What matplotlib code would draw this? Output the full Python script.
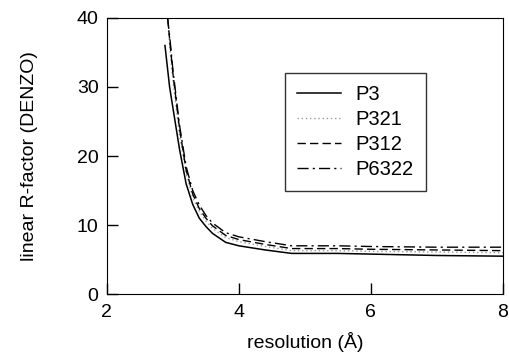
import numpy as np
import matplotlib.pyplot as plt

plt.rcParams['font.family'] = ['Liberation Sans', 'DejaVu Sans']

# resolution (A) and R-factor values
res_p3 = [2.88, 2.95, 3.0, 3.1, 3.2, 3.3, 3.4, 3.5, 3.6, 3.8, 4.0, 4.4, 4.8, 5.5, 6.0, 7.0, 8.0]
p3 = [36, 30, 27, 21, 16, 13, 11, 9.8, 8.8, 7.5, 7.0, 6.4, 5.9, 5.9, 5.8, 5.6, 5.5]

res_other = [2.92, 2.96, 3.0, 3.1, 3.2, 3.3, 3.4, 3.5, 3.6, 3.8, 4.0, 4.4, 4.8, 5.5, 6.0, 7.0, 8.0]
p321 = [40, 35, 31, 23, 17.5, 14, 12, 10.6, 9.5, 8.2, 7.6, 6.9, 6.3, 6.3, 6.2, 6.1, 6.0]
p312 = [40, 36, 32, 24, 18, 14.5, 12.4, 11.0, 9.9, 8.5, 7.9, 7.2, 6.6, 6.6, 6.5, 6.4, 6.3]
p6322 = [40, 36.5, 32.5, 24.5, 18.5, 15, 12.9, 11.4, 10.3, 8.9, 8.3, 7.6, 7.0, 7.0, 6.9, 6.8, 6.8]

fig = plt.figure(figsize=(5.09, 3.57), dpi=100)
ax = fig.add_axes([0.21, 0.176, 0.778, 0.774])

ax.plot(res_p3, p3, color='black', lw=1.1, ls='-', label='P3')
ax.plot(res_other, p321, color='#999999', lw=1.0, ls=(0, (1, 2)), label='P321')
ax.plot(res_other, p312, color='black', lw=1.0, ls=(0, (6, 3)), label='P312')
ax.plot(res_other, p6322, color='black', lw=1.0, ls=(0, (8, 3, 1.5, 3)), label='P6322')

ax.set_xlim(2, 8)
ax.set_ylim(0, 40)
ax.set_xticks([2, 4, 6, 8])
ax.set_yticks([0, 10, 20, 30, 40])
ax.tick_params(direction='in', length=8, width=1, labelsize=14, top=False, right=False)
ax.tick_params(axis='x', pad=7)
ax.tick_params(axis='y', pad=6)
ax.set_xlabel('resolution (Å)', fontsize=14, labelpad=8)
ax.set_ylabel('linear R-factor (DENZO)', fontsize=14, labelpad=28)

leg = ax.legend(loc='upper left', bbox_to_anchor=(0.45, 0.80), fontsize=14.5,
                frameon=True, fancybox=False, edgecolor='black', handlelength=2.2,
                borderpad=0.6, labelspacing=0.3, handletextpad=0.7, borderaxespad=0)
leg.get_frame().set_linewidth(1.0)

plt.savefig('out.png', dpi=100)
